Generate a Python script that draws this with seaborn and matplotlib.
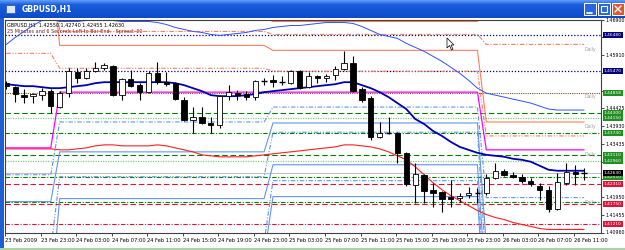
import numpy as np
import matplotlib
matplotlib.use("Agg")
import matplotlib.pyplot as plt
import seaborn as sns
from matplotlib.patches import Rectangle, Polygon
from matplotlib.transforms import blended_transform_factory

sns.set_style("white")
plt.rcParams['font.family'] = ['DejaVu Sans']

# ---------------- data (GBPUSD H1, 23 Feb 2009 19:00 .. 26 Feb 12:00) ----------------
opens = [1.45124, 1.45013, 1.44791, 1.44763, 1.44791, 1.44902, 1.44458, 1.44847, 1.45429, 1.45263,
         1.45457, 1.45540, 1.45596, 1.44791, 1.45235, 1.45069, 1.44874, 1.45402, 1.45152, 1.45124,
         1.44652, 1.44097, 1.44181, 1.44014, 1.43959, 1.44763, 1.44847, 1.44819, 1.44736, 1.45180,
         1.45207, 1.45166, 1.45124, 1.45457, 1.45013, 1.45318, 1.45263, 1.45346, 1.45513, 1.45679,
         1.44958, 1.44708, 1.43626, 1.43737, 1.43737, 1.43182, 1.42294, 1.42571, 1.42155, 1.42099,
         1.41961, 1.41933, 1.42016, 1.42072, 1.42072, 1.42488, 1.42682, 1.42571, 1.42516, 1.42405,
         1.42266, 1.42155, 1.41628, 1.42349, 1.42654, 1.42627]
highs = [1.45180, 1.45041, 1.44958, 1.44847, 1.44985, 1.44958, 1.44902, 1.45540, 1.45540, 1.45540,
         1.45707, 1.45679, 1.45624, 1.45263, 1.45485, 1.45124, 1.45457, 1.45707, 1.45429, 1.45152,
         1.44736, 1.44458, 1.44458, 1.44181, 1.44791, 1.45069, 1.44930, 1.44902, 1.45207, 1.45263,
         1.45346, 1.45318, 1.45485, 1.45485, 1.45429, 1.45346, 1.45374, 1.45596, 1.46012, 1.45873,
         1.45013, 1.44763, 1.44042, 1.44181, 1.43764, 1.43209, 1.42904, 1.42599, 1.42349, 1.42127,
         1.42432, 1.42072, 1.42238, 1.42210, 1.42599, 1.42904, 1.42738, 1.42654, 1.42599, 1.42488,
         1.42349, 1.42266, 1.42627, 1.42904, 1.42849, 1.42766]
lows = [1.44958, 1.44597, 1.44569, 1.44569, 1.44652, 1.44292, 1.44430, 1.44736, 1.45124, 1.45235,
        1.45429, 1.45485, 1.44763, 1.44652, 1.45013, 1.44652, 1.44847, 1.45096, 1.45041, 1.44652,
        1.44070, 1.43737, 1.43986, 1.43737, 1.43875, 1.44652, 1.44652, 1.44652, 1.44652, 1.45069,
        1.45013, 1.45069, 1.45096, 1.44958, 1.44985, 1.45124, 1.45152, 1.45207, 1.45485, 1.44874,
        1.44597, 1.43542, 1.43598, 1.43709, 1.42904, 1.42266, 1.41794, 1.41794, 1.41683, 1.41544,
        1.41683, 1.41822, 1.41933, 1.41794, 1.42016, 1.42460, 1.42543, 1.42488, 1.42349, 1.42266,
        1.41877, 1.41544, 1.41600, 1.42294, 1.42294, 1.42432]
closes = [1.45041, 1.44819, 1.44736, 1.44819, 1.44902, 1.44486, 1.44847, 1.45457, 1.45263, 1.45457,
          1.45540, 1.45624, 1.44791, 1.45235, 1.45041, 1.44874, 1.45402, 1.45152, 1.45096, 1.44680,
          1.44097, 1.44181, 1.44014, 1.43959, 1.44763, 1.44874, 1.44791, 1.44736, 1.45180, 1.45175,
          1.45152, 1.45160, 1.45457, 1.44985, 1.45318, 1.45263, 1.45318, 1.45513, 1.45679, 1.44902,
          1.44652, 1.43626, 1.43737, 1.43730, 1.43182, 1.42321, 1.42599, 1.42127, 1.42072, 1.41905,
          1.41905, 1.41988, 1.42072, 1.42065, 1.42488, 1.42682, 1.42571, 1.42516, 1.42405, 1.42321,
          1.42155, 1.41628, 1.42377, 1.42654, 1.42599, 1.42630]

ma_main = [1.45096, 1.45069, 1.45041, 1.45041, 1.45013, 1.44985, 1.44985, 1.45013, 1.45041, 1.45069,
           1.45124, 1.45152, 1.45152, 1.45152, 1.45152, 1.45152, 1.45152, 1.45152, 1.45152, 1.45124,
           1.45069, 1.44985, 1.44902, 1.44791, 1.44763, 1.44763, 1.44763, 1.44791, 1.44819, 1.44874,
           1.44902, 1.44930, 1.44958, 1.44985, 1.45013, 1.45041, 1.45069, 1.45096, 1.45152, 1.45152,
           1.45069, 1.44985, 1.44874, 1.44736, 1.44569, 1.44402, 1.44125, 1.43986, 1.43792, 1.43653,
           1.43487, 1.43348, 1.43265, 1.43182, 1.43127, 1.43099, 1.43072, 1.43016, 1.42988, 1.42933,
           1.42822, 1.42710, 1.42682, 1.42682, 1.42682, 1.42682]
band_upper = [1.46206, 1.46400, 1.46567, 1.46733, 1.46872, 1.46928, 1.46844, 1.46844, 1.46844, 1.46872,
              1.46872, 1.46872, 1.46872, 1.46844, 1.46844, 1.46844, 1.46844, 1.46817, 1.46761, 1.46678,
              1.46622, 1.46567, 1.46539, 1.46484, 1.46456, 1.46484, 1.46511, 1.46539, 1.46595, 1.46622,
              1.46678, 1.46706, 1.46733, 1.46733, 1.46761, 1.46789, 1.46817, 1.46817, 1.46817, 1.46789,
              1.46706, 1.46595, 1.46484, 1.46428, 1.46373, 1.46234, 1.46123, 1.46012, 1.45873, 1.45734,
              1.45568, 1.45402, 1.45207, 1.44985, 1.44847, 1.44791, 1.44736, 1.44680, 1.44625, 1.44569,
              1.44486, 1.44402, 1.44375, 1.44375, 1.44375, 1.44375]
band_lower = [1.43293, 1.43293, 1.43293, 1.43293, 1.43293, 1.43293, 1.43265, 1.43265, 1.43293, 1.43320,
              1.43376, 1.43404, 1.43404, 1.43376, 1.43376, 1.43376, 1.43376, 1.43404, 1.43376, 1.43320,
              1.43265, 1.43209, 1.43126, 1.43098, 1.43070, 1.43070, 1.43070, 1.43070, 1.43098, 1.43126,
              1.43154, 1.43182, 1.43209, 1.43237, 1.43265, 1.43293, 1.43320, 1.43348, 1.43404, 1.43404,
              1.43376, 1.43348, 1.43293, 1.43209, 1.43098, 1.42987, 1.42793, 1.42571, 1.42349, 1.42155,
              1.41988, 1.41849, 1.41711, 1.41572, 1.41461, 1.41378, 1.41322, 1.41239, 1.41183, 1.41128,
              1.41072, 1.41045, 1.41045, 1.41045, 1.41045, 1.41045]

# daily pivot levels: one value per trading day shown (23, 24, 25, 26 Feb)
bars_per_day = [6, 24, 24, 12]
piv_p  = [1.43320, 1.44874, 1.44874, 1.43265]
piv_r1 = [1.48593, 1.46178, 1.46040, 1.44042]
piv_m3 = [1.45956, 1.45540, 1.45457, 1.43653]
piv_m4 = [1.50000, 1.46567, 1.46484, 1.46206]
piv_r2 = [1.52000, 1.46955, 1.46844, 1.48370]
piv_s1 = [1.41822, 1.43209, 1.44014, 1.40601]
piv_m2 = [1.42571, 1.44042, 1.44458, 1.41933]
piv_m1 = [1.40490, 1.42516, 1.43756, 1.39935]
piv_s2 = [1.39102, 1.41905, 1.42849, 1.39268]
piv_m0 = [1.38000, 1.40700, 1.42405, 1.38500]
piv_s3 = [1.37000, 1.40300, 1.41961, 1.38000]

# fixed horizontal levels
levels_navy = [1.46480, 1.45470]
levels_green_dash = [1.44300, 1.43110]
levels_green_dot = [1.44150, 1.42960]
levels_green_dashdot = [1.43740, 1.42510, 1.41800]
level_olive_dot = 1.44858
levels_red_dash = [1.42310, 1.41750]
level_red_dashdot = 1.41210
bid = 1.42630

time_labels = ["23 Feb 2009", "23 Feb 23:00", "24 Feb 03:00", "24 Feb 07:00", "24 Feb 11:00",
               "24 Feb 15:00", "24 Feb 19:00", "24 Feb 23:00", "25 Feb 03:00", "25 Feb 07:00",
               "25 Feb 11:00", "25 Feb 15:00", "25 Feb 19:00", "25 Feb 23:00", "26 Feb 03:00",
               "26 Feb 07:00", "26 Feb 11:00"]
price_ticks = [1.40960, 1.41455, 1.41950, 1.42445, 1.42940, 1.43435, 1.43930, 1.44425,
               1.44920, 1.45415, 1.45910, 1.46405, 1.46900]
price_tick_labels = ["1.40960", "1.41455", "1.41950", "", "", "1.43435", "1.43930", "1.44425",
                     "", "", "1.45910", "", "1.46900"]

# ---------------- figure ----------------
W, H = 625, 250
fig = plt.figure(figsize=(W / 100, H / 100), dpi=100)
fig.patch.set_facecolor("white")

bg = fig.add_axes([0, 0, 1, 1])
bg.set_zorder(-1)
bg.set_xlim(0, W)
bg.set_ylim(H, 0)
bg.axis("off")
grad = np.linspace(0, 1, 18)
cols = np.array([[0.36, 0.60, 0.98], [0.10, 0.36, 0.86], [0.05, 0.30, 0.80]])
img = np.zeros((18, 1, 3))
for k in range(3):
    img[:, 0, k] = np.interp(grad, [0, 0.25, 1], cols[:, k])
bg.imshow(img, extent=(0, W, 18, 0), aspect="auto", interpolation="bilinear")
bg.add_patch(Rectangle((0, 18), 4, H - 18, color="#1f5fd6", lw=0))
bg.add_patch(Rectangle((0, 248), W, 2, color="#a8d4a8", lw=0))
bg.text(22, 9.5, "GBPUSD,H1", color="white", fontsize=5.5, fontweight="bold", va="center", ha="left")
bg.add_patch(Rectangle((6, 5), 9, 8, fc="#dfe8f8", ec="#2050b0", lw=0.5))
for bx, fc in [(584, "#2c66dc"), (598, "#2c66dc"), (612, "#e0572f")]:
    bg.add_patch(Rectangle((bx, 3), 12, 12, fc=fc, ec="white", lw=0.7))
bg.plot([587, 592], [12.5, 12.5], color="white", lw=1.2)
bg.add_patch(Rectangle((601, 6), 6, 6, fc="none", ec="white", lw=0.8))
bg.plot([615, 621], [6, 12], color="white", lw=1.0)
bg.plot([615, 621], [12, 6], color="white", lw=1.0)

ax = fig.add_axes([5 / W, 1 - 232.5 / H, 596 / W, 213 / H])
ax.set_facecolor("white")
n = len(opens)
idx = np.arange(n)
day_idx = np.repeat(np.arange(len(bars_per_day)), bars_per_day)

def step(vals):
    return np.asarray(vals)[day_idx]

# fixed levels
for v in levels_navy:
    ax.axhline(v, color="#000080", lw=0.9, ls=(0, (1, 1.5)), zorder=1)
for v in levels_green_dash:
    ax.axhline(v, color="#008000", lw=0.8, ls=(0, (5, 2.5)), zorder=1)
for v in levels_green_dot:
    ax.axhline(v, color="#80d080", lw=0.9, ls=(0, (1, 1)), zorder=1)
for v in levels_green_dashdot:
    ax.axhline(v, color="#008000", lw=0.8, ls=(0, (4, 1.5, 1, 1.5)), zorder=1)
ax.axhline(level_olive_dot, color="#6b5a2f", lw=0.8, ls=(0, (1, 1)), zorder=1)
for v in levels_red_dash:
    ax.axhline(v, color="#dc143c", lw=0.8, ls=(0, (5, 2.5)), zorder=1)
ax.axhline(level_red_dashdot, color="#dc143c", lw=0.8, ls=(0, (4, 1.5, 1, 1.5)), zorder=1)
ax.axhline(bid, color="#c0c0c0", lw=0.8, zorder=1)

# daily pivot step lines
salmon = "#fa8060"
lblue = "#6495ed"
ddot = (0, (4, 1.5, 1, 1.5))
dd2 = (0, (4, 1.5, 1, 1.5, 1, 1.5))
ax.plot(idx, step(piv_r2), color=salmon, lw=0.8, zorder=1.5)
ax.plot(idx, step(piv_m4), color=salmon, lw=0.8, ls=ddot, zorder=1.5)
ax.plot(idx, step(piv_r1), color=salmon, lw=0.8, zorder=1.5)
ax.plot(idx, step(piv_m3), color=salmon, lw=0.8, ls=dd2, zorder=1.5)
ax.plot(idx, step(piv_s1), color=lblue, lw=0.8, zorder=1.5)
ax.plot(idx, step(piv_m2), color=lblue, lw=0.8, ls=ddot, zorder=1.5)
ax.plot(idx, step(piv_m1), color=lblue, lw=0.8, ls=dd2, zorder=1.5)
ax.plot(idx, step(piv_s2), color=lblue, lw=0.8, zorder=1.5)
ax.plot(idx, step(piv_m0), color=lblue, lw=0.8, ls=ddot, zorder=1.5)
ax.plot(idx, step(piv_s3), color=lblue, lw=0.8, zorder=1.5)

# bands and moving average
sns.lineplot(x=idx, y=band_lower, ax=ax, color="#ff2020", lw=0.8, zorder=2)
sns.lineplot(x=idx, y=step(piv_p), ax=ax, color="#ff00ff", lw=0.9, zorder=2.1)
sns.lineplot(x=idx, y=band_upper, ax=ax, color="#3050ff", lw=0.7, zorder=2)
sns.lineplot(x=idx, y=ma_main, ax=ax, color="#0000b0", lw=1.3, zorder=2.2)

# candles
o = np.array(opens); c = np.array(closes); hi = np.array(highs); lo = np.array(lows)
ax.vlines(idx, lo, hi, color="black", lw=0.8, zorder=3)
bw = 0.6
for i in range(n):
    top, bot = max(o[i], c[i]), min(o[i], c[i])
    if top - bot < 0.00012:
        ax.hlines((o[i] + c[i]) / 2, i - bw / 2, i + bw / 2, color="black", lw=1.0, zorder=4)
    else:
        ax.bar(i, top - bot, bottom=bot, width=bw, color="white" if c[i] > o[i] else "black",
               edgecolor="black", lw=0.6, zorder=4)

ax.set_xlim(-0.06, 66.9)
ax.set_ylim(1.4096, 1.4690)
ax.set_xlabel("")
ax.set_ylabel("")
for s in ax.spines.values():
    s.set_color("#404040")
    s.set_linewidth(0.8)

ax.yaxis.tick_right()
ax.set_yticks(price_ticks)
ax.set_yticklabels(price_tick_labels)
ax.tick_params(axis="y", which="both", right=True, length=2, width=0.5, pad=1, labelsize=3.4, colors="black")
ax.set_xticks(np.arange(0, 65, 4) - 0.15)
ax.set_xticklabels(time_labels)
ax.tick_params(axis="x", length=2.5, width=0.5, pad=1.5, labelsize=3.7, colors="black", bottom=True)
for lab in ax.get_xticklabels():
    lab.set_ha("left")

# price boxes on the right axis
tr = blended_transform_factory(ax.transAxes, ax.transData)
boxes = [(1.46480, "#000080"), (1.45470, "#000080"), (level_olive_dot, "#1f8f1f"),
         (1.44300, "#1f8f1f"), (1.44150, "#1f8f1f"), (1.43740, "#1f8f1f"), (1.43110, "#1f8f1f"),
         (1.42960, "#1f8f1f"), (1.42510, "#1f8f1f"), (1.42310, "#dc143c"), (1.41750, "#dc143c"),
         (1.41210, "#dc143c"), (bid, "black")]
for v, colr in boxes:
    ax.text(1.0045, v, f"{v:.5f}", transform=tr, fontsize=3.2, color="white", va="center", ha="left",
            clip_on=False, zorder=6,
            bbox=dict(boxstyle="square,pad=0.22", fc=colr, ec="none"))

# daily labels
for v in [1.46206, 1.44874, 1.44042, 1.43265, 1.41933]:
    ax.text(65.0, v - 0.0013, "Daily", fontsize=3.3, color="#a0a0a0", va="center", ha="left", zorder=5)

# header text
ax.text(0.004, 0.985, "GBPUSD,H1  1.42550 1.42740 1.42455 1.42630", transform=ax.transAxes,
        fontsize=3.5, color="black", va="top", ha="left", zorder=6)
ax.text(0.004, 0.955, "25 Minutes and 6 Seconds Left to Bar End.   Spread: 30", transform=ax.transAxes,
        fontsize=3.5, color="#8b1a1a", va="top", ha="left", zorder=6)

# mouse cursor
cur = Polygon([[447, 38], [447, 48], [449.5, 45.5], [451.5, 50], [453, 49.3], [451, 45], [454, 45]],
              closed=True, fc="white", ec="black", lw=0.5)
top_ax = fig.add_axes([0, 0, 1, 1], facecolor="none")
top_ax.set_xlim(0, W); top_ax.set_ylim(H, 0); top_ax.axis("off")
top_ax.add_patch(cur)

fig.savefig("out.png", dpi=100)
